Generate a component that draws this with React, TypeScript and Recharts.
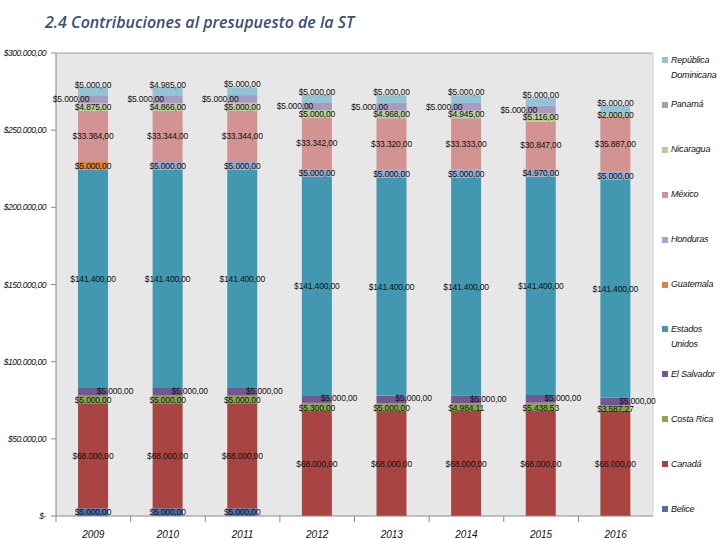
import { BarChart, Bar, XAxis, YAxis, CartesianGrid, LabelList } from 'recharts';

// Contribuciones por país y año (USD)
const years = ['2009', '2010', '2011', '2012', '2013', '2014', '2015', '2016'];
const belice = [5000, 5000, 5000, 0, 0, 0, 0, 0];
const canada = [68000, 68000, 68000, 68000, 68000, 68000, 68000, 68000];
const costaRica = [5000, 5000, 5000, 5300, 5000, 4984.11, 5438.53, 3587.27];
const elSalvador = [5000, 5000, 5000, 5000, 5000, 5000, 5000, 5000];
const estadosUnidos = [141400, 141400, 141400, 141400, 141400, 141400, 141400, 141400];
const guatemala = [5000, 0, 0, 0, 0, 0, 0, 0];
const honduras = [0, 5000, 5000, 5000, 5000, 5000, 4970, 5000];
const mexico = [33364, 33344, 33344, 33342, 33320, 33333, 30847, 35887];
const nicaragua = [4875, 4866, 5000, 5000, 4968, 4945, 5116, 2000];
const panama = [5000, 5000, 5000, 5000, 5000, 5000, 5000, 0];
const repDominicana = [5000, 4985, 5000, 5000, 5000, 5000, 5000, 5000];

const yTicks = [0, 50000, 100000, 150000, 200000, 250000, 300000];

// bottom to top
const series = [
  { key: 'belice', name: 'Belice', values: belice },
  { key: 'canada', name: 'Canadá', values: canada },
  { key: 'costaRica', name: 'Costa Rica', values: costaRica },
  { key: 'elSalvador', name: 'El Salvador', values: elSalvador },
  { key: 'estadosUnidos', name: 'Estados\nUnidos', values: estadosUnidos },
  { key: 'guatemala', name: 'Guatemala', values: guatemala },
  { key: 'honduras', name: 'Honduras', values: honduras },
  { key: 'mexico', name: 'México', values: mexico },
  { key: 'nicaragua', name: 'Nicaragua', values: nicaragua },
  { key: 'panama', name: 'Panamá', values: panama },
  { key: 'repDominicana', name: 'República\nDominicana', values: repDominicana },
];

const COLORS: Record<string, string> = {
  belice: '#4a6fad',
  canada: '#a84543',
  costaRica: '#8aa64f',
  elSalvador: '#71598f',
  estadosUnidos: '#4298b0',
  guatemala: '#db843d',
  honduras: '#94aacf',
  mexico: '#d29392',
  nicaragua: '#bacd97',
  panama: '#a99bbe',
  repDominicana: '#93c4d6',
};

// the hand-moved labels of the original
const LABEL_DX: Record<string, number> = { panama: -22, elSalvador: 22 };
const LABEL_DY: Record<string, number> = { elSalvador: -1, costaRica: 1 };

const data = years.map((year, i) => {
  const row: Record<string, string | number> = { year };
  series.forEach((s) => {
    row[s.key] = s.values[i];
  });
  return row;
});

const FONT = '"Liberation Sans", Arial, sans-serif';
const W = 720;
const H = 540;
const PLOT_LEFT = 56;
const PLOT_RIGHT = 653;
const BAND = (PLOT_RIGHT - PLOT_LEFT) / years.length;

function money(v: number) {
  const [int, dec] = v.toFixed(2).split('.');
  return `$${int.replace(/\B(?=(\d{3})+(?!\d))/g, '.')},${dec}`;
}

function segmentLabel(key: string) {
  const dx = LABEL_DX[key] ?? 0;
  const dy = LABEL_DY[key] ?? 0;
  const above = key === 'repDominicana';
  return (props: any) => {
    const { x, y, width, height, value } = props;
    if (!value) return null;
    const cx = Number(x) + Number(width) / 2 + dx;
    const cy = above ? Number(y) - 3 : Number(y) + Number(height) / 2 + dy;
    return (
      <text x={cx} y={cy + 3} textAnchor="middle" fontSize={8.5} fontFamily={FONT} fill="#111" letterSpacing={-0.15}>
        {money(Number(value))}
      </text>
    );
  };
}

function YearTick(props: any) {
  const { x, y, payload } = props;
  return (
    <g>
      <line x1={x - BAND / 2} x2={x - BAND / 2} y1={y} y2={y + 6} stroke="#8a8a8a" />
      <text x={x} y={y + 22} textAnchor="middle" fontSize={10} fontStyle="italic" fontFamily={FONT} fill="#111">
        {payload.value}
      </text>
    </g>
  );
}

export default function App() {
  const legendItems = [...series].reverse();
  return (
    <div style={{ position: 'absolute', left: 0, top: 0, width: W, height: H, background: '#fff' }}>
      <div
        style={{
          position: 'absolute',
          left: 45,
          top: 11,
          fontFamily: '"Open Sans", sans-serif',
          fontStyle: 'italic',
          fontWeight: 600,
          fontSize: 16,
          color: '#3e4d72',
          whiteSpace: 'nowrap',
        }}
      >
        2.4 Contribuciones al presupuesto de la ST
      </div>
      <BarChart width={W} height={H} data={data} margin={{ top: 52, right: W - PLOT_RIGHT - 1, bottom: 0, left: 0 }}>
        <CartesianGrid fill="#e7e7e7" stroke="none" horizontal={false} vertical={false} />
        <XAxis
          dataKey="year"
          height={24}
          tickLine={false}
          tickSize={0}
          tickMargin={0}
          axisLine={{ stroke: '#8a8a8a' }}
          tick={<YearTick />}
          interval={0}
        />
        <XAxis xAxisId="top" dataKey="year" orientation="top" height={1} tick={false} tickLine={false} axisLine={{ stroke: '#a0a0a0' }} />
        <YAxis
          width={PLOT_LEFT}
          domain={[0, 300000]}
          ticks={yTicks}
          interval={0}
          tickSize={5}
          tickMargin={5}
          axisLine={{ stroke: '#8a8a8a' }}
          tickLine={{ stroke: '#8a8a8a' }}
          tickFormatter={(v: number) => (v === 0 ? '$-' : money(v))}
          tick={{ fontSize: 8.5, fontStyle: 'italic', fill: '#111', fontFamily: FONT, letterSpacing: -0.45 }}
        />
        <YAxis yAxisId="r" orientation="right" width={1} tick={false} tickLine={false} axisLine={{ stroke: '#d2d2d2' }} />
        {series.map((s) => (
          <Bar key={s.key} dataKey={s.key} name={s.name} stackId="a" barSize={30} fill={COLORS[s.key]} isAnimationActive={false}>
            <LabelList dataKey={s.key} content={segmentLabel(s.key)} />
          </Bar>
        ))}
      </BarChart>
      {legendItems.map((s, i) => (
        <div
          key={s.key}
          style={{
            position: 'absolute',
            left: 662,
            top: 60 + i * 44.9 - 7.5,
            display: 'flex',
            alignItems: 'flex-start',
            gap: 3,
            fontFamily: FONT,
            fontStyle: 'italic',
            fontSize: 9,
            letterSpacing: -0.2,
            lineHeight: '15px',
            color: '#111',
            whiteSpace: 'pre-line',
          }}
        >
          <span style={{ width: 6, height: 6, marginTop: 4.5, background: COLORS[s.key], flexShrink: 0 }} />
          <span>{s.name}</span>
        </div>
      ))}
    </div>
  );
}
